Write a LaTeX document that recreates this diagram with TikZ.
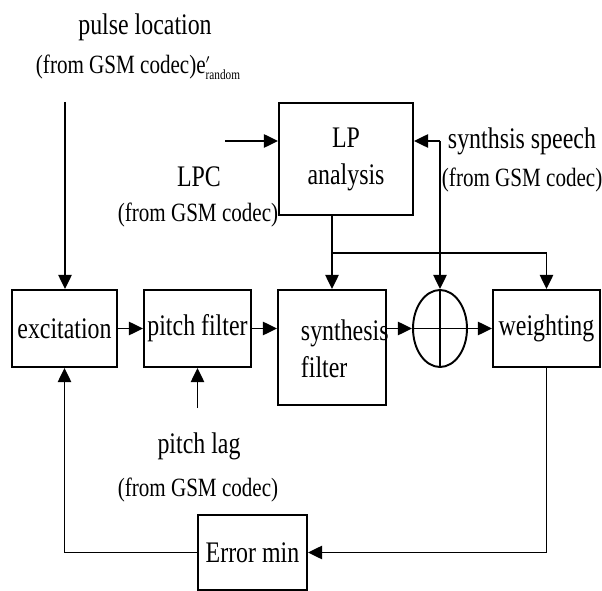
\documentclass[tikz,border=0pt]{standalone}
\usepackage{fontspec}
\setmainfont{Liberation Serif}[FakeStretch=0.8]
\usetikzlibrary{arrows.meta,shapes.geometric}
\begin{document}
\begin{tikzpicture}[x=0.02cm,y=-0.02cm,>={Triangle[length=8pt,width=7.5pt]},line width=1.1pt,
  blk/.style={draw,inner sep=1pt,minimum width=2.14cm,minimum height=1.54cm,font=\fontsize{17}{21}\selectfont},
  lbl/.style={inner sep=0pt,font=\fontsize{17}{21}\selectfont},
  src/.style={inner sep=0pt,font=\fontsize{15}{18}\selectfont}]
\useasboundingbox (0,0) rectangle (602,591);
% blocks
\node[blk,minimum width=2.1cm] (exc) at (64.5,328.5) {excitation};
\node[blk] (pf) at (197.5,328.5) {pitch filter};
\node[blk,minimum width=2.16cm,minimum height=2.3cm] (sf) at (332,347.5) {};
\node[lbl,anchor=west,align=left] (sftxt) at (300,348.5) {synthesis\\filter};
\node[draw,ellipse,inner sep=0pt,minimum width=1.08cm,minimum height=1.54cm] (sum) at (440,328.5) {};
\draw (sum.north) -- (sum.south) (sum.west) -- (sum.east);
\node[blk] (wt) at (546.5,328.5) {weighting};
\node[blk,minimum width=2.68cm,minimum height=2.24cm,align=center] (lp) at (346,159) {LP\\analysis};
\node[blk,minimum width=2.18cm,minimum height=1.5cm] (err) at (252.5,552.5) {Error min};
% inputs
\node[lbl] (pulse) at (145,27) {pulse location};
\node[src,anchor=west] (pulsesrc) at (35,67) {(from GSM codec)e$^{\scriptscriptstyle\prime}_{\mbox{\fontsize{8}{9}\selectfont random}}$};
\node[lbl] (lpc) at (199,177) {LPC};
\node[src] (lpcsrc) at (198,215) {(from GSM codec)};
\node[lbl,anchor=west] (speech) at (447,141) {synthsis speech};
\node[src,anchor=west] (speechsrc) at (441,180) {(from GSM codec)};
\node[lbl] (lag) at (199,446) {pitch lag};
\node[src] (lagsrc) at (198,490) {(from GSM codec)};
\coordinate (pin) at (65,102);
\coordinate (lpin) at (225,141);
\coordinate (spj) at (440,141);
\coordinate (lagin) at (197.5,408);
\coordinate (j1) at (332,253);
% connections
\draw[->] (pin) -- (pin |- exc.north);
\draw[->] (lpin) -- (lpin -| lp.west);
\draw[->] (spj) -- (spj -| lp.east);
\draw[->] (spj) -- (sum.north);
\draw (j1 |- lp.south) -- (j1);
\draw[->] (j1) -- (sf.north);
\draw[->] (j1) -| (wt.north);
\draw[->] (exc.east) -- (pf.west);
\draw[->] (pf.east) -- (pf.east -| sf.west);
\draw[->] (sum.west -| sf.east) -- (sum.west);
\draw[->] (sum.east) -- (wt.west);
\draw[->] (lagin) -- (pf.south);
\draw[->] (wt.south) |- (err.east);
\draw[->] (err.west) -| (exc.south);
\end{tikzpicture}
\end{document}
